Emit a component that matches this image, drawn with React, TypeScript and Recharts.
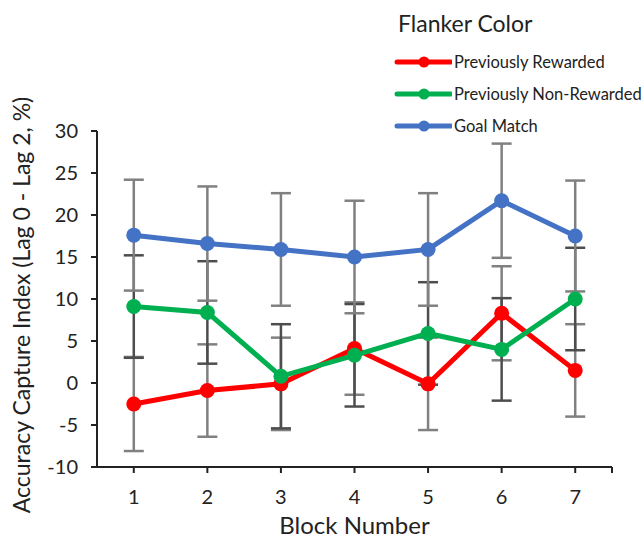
import React from "react";
import {
  LineChart,
  Line,
  XAxis,
  YAxis,
  ErrorBar,
  Legend,
  Label,
} from "recharts";

// Block numbers on the x axis
const blocks = [1, 2, 3, 4, 5, 6, 7];

// Accuracy capture index (%) and error bar half-widths per flanker color
const rewarded = [-2.5, -0.9, -0.1, 4.1, -0.1, 8.3, 1.5];
const rewardedErr = [5.6, 5.5, 5.5, 5.5, 5.5, 5.6, 5.5];
const nonRewarded = [9.1, 8.4, 0.8, 3.3, 5.9, 4.0, 10.0];
const nonRewardedErr = [6.1, 6.1, 6.2, 6.1, 6.1, 6.1, 6.1];
const goalMatch = [17.6, 16.6, 15.9, 15.0, 15.9, 21.7, 17.5];
const goalMatchErr = [6.6, 6.8, 6.7, 6.7, 6.7, 6.8, 6.6];

const yTicks = [-10, -5, 0, 5, 10, 15, 20, 25, 30];
const xTicks = [1, 2, 3, 4, 5, 6, 7, 7.5];

const series = [
  { key: "rewarded", errKey: "rewardedErr", name: "Previously Rewarded", color: "#ff0000", errColor: "#808080" },
  { key: "nonRewarded", errKey: "nonRewardedErr", name: "Previously Non-Rewarded", color: "#00b050", errColor: "#4d4d4d" },
  { key: "goalMatch", errKey: "goalMatchErr", name: "Goal Match", color: "#4472c4", errColor: "#808080" },
];

const data = blocks.map((b, i) => ({
  block: b,
  rewarded: rewarded[i],
  rewardedErr: rewardedErr[i],
  nonRewarded: nonRewarded[i],
  nonRewardedErr: nonRewardedErr[i],
  goalMatch: goalMatch[i],
  goalMatchErr: goalMatchErr[i],
}));

const FONT = "Lato, 'Open Sans', sans-serif";
const TEXT = "#222";

const renderLegend = () => (
  <div style={{ fontFamily: FONT, color: TEXT }}>
    <div style={{ fontSize: 23, lineHeight: "23px", marginLeft: 8, height: 34 }}>
      Flanker Color
    </div>
    {series.map((s) => (
      <div key={s.key} style={{ display: "flex", alignItems: "center", height: 32 }}>
        <svg width={62} height={14} style={{ flex: "none" }}>
          <line x1={7} y1={7} x2={61} y2={7} stroke={s.color} strokeWidth={5} strokeLinecap="round" />
          <circle cx={34} cy={7} r={5.5} fill={s.color} />
        </svg>
        <span style={{ fontSize: 16.5, marginLeft: 2 }}>{s.name}</span>
      </div>
    ))}
  </div>
);

export default function App() {
  return (
    <div style={{ position: "absolute", left: 0, top: 0, background: "#fff" }}>
      <LineChart
        width={643}
        height={540}
        data={data}
        margin={{ top: 131, right: 31, left: 0, bottom: 0 }}
      >
        <XAxis
          dataKey="block"
          type="number"
          domain={[0.5, 7.5]}
          ticks={xTicks}
          tickFormatter={(v: number) => (v === 7.5 ? "" : String(v))}
          height={73}
          axisLine={{ stroke: TEXT, strokeWidth: 2 }}
          tickLine={{ stroke: TEXT, strokeWidth: 2 }}
          tickSize={6}
          tickMargin={17}
          tick={{ fill: TEXT, fontSize: 20, fontFamily: FONT }}
        >
          <Label
            content={({ viewBox }: any) => (
              <text
                x={viewBox.x + viewBox.width / 2}
                y={534}
                textAnchor="middle"
                fill={TEXT}
                fontSize={24}
                fontFamily={FONT}
              >
                Block Number
              </text>
            )}
          />
        </XAxis>
        <YAxis
          type="number"
          domain={[-10, 30]}
          ticks={yTicks}
          width={97}
          axisLine={{ stroke: TEXT, strokeWidth: 2 }}
          tickLine={{ stroke: TEXT, strokeWidth: 2 }}
          tickSize={6}
          tickMargin={13}
          tick={{ fill: TEXT, fontSize: 20, fontFamily: FONT }}
        >
          <Label
            content={({ viewBox }: any) => {
              const cx = 30;
              const cy = viewBox.y + viewBox.height / 2 + 6;
              return (
                <text
                  x={cx}
                  y={cy}
                  transform={`rotate(-90, ${cx}, ${cy})`}
                  textAnchor="middle"
                  fill={TEXT}
                  fontSize={23}
                  fontFamily={FONT}
                >
                  Accuracy Capture Index (Lag 0 - Lag 2, %)
                </text>
              );
            }}
          />
        </YAxis>
        <Legend
          content={renderLegend}
          layout="horizontal"
          verticalAlign="middle"
          wrapperStyle={{ top: 12, left: 390, width: 253 }}
        />
        {/* error bars first so they sit behind every line */}
        {series.map((s) => (
          <Line
            key={`${s.key}-err`}
            dataKey={s.key}
            stroke="none"
            dot={false}
            activeDot={false}
            legendType="none"
            isAnimationActive={false}
          >
            <ErrorBar
              dataKey={s.errKey}
              width={10}
              strokeWidth={2.5}
              stroke={s.errColor}
              isAnimationActive={false}
            />
          </Line>
        ))}
        {series.map((s) => (
          <Line
            key={s.key}
            dataKey={s.key}
            name={s.name}
            stroke={s.color}
            strokeWidth={5}
            dot={{ r: 7.5, fill: s.color, stroke: s.color, strokeWidth: 0 }}
            activeDot={false}
            isAnimationActive={false}
          />
        ))}
      </LineChart>
    </div>
  );
}
